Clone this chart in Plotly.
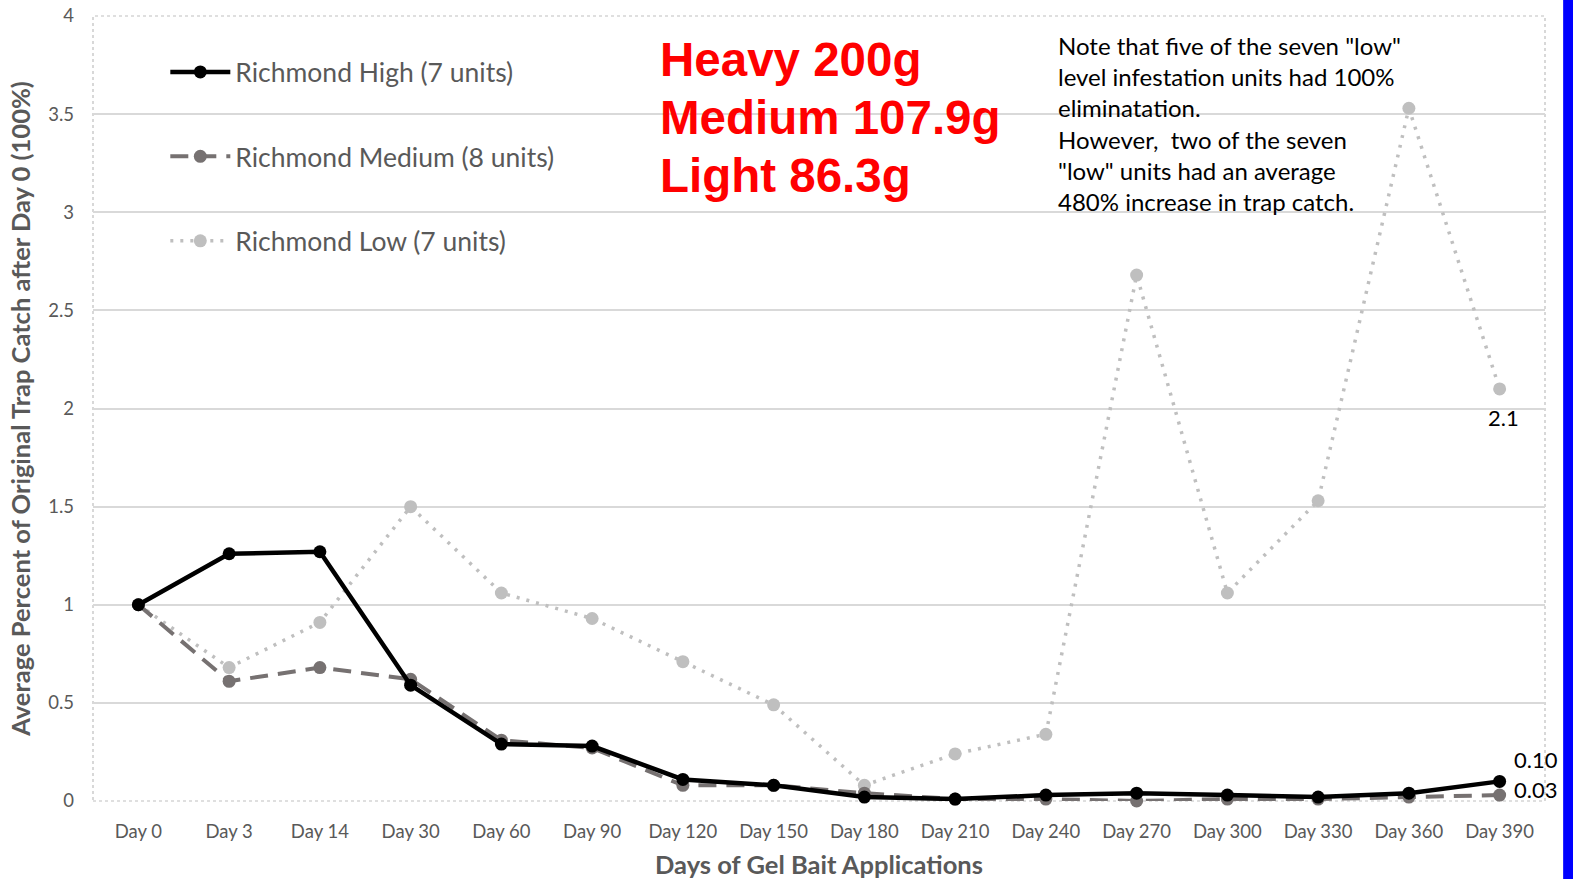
import plotly.graph_objects as go

days = ["Day 0", "Day 3", "Day 14", "Day 30", "Day 60", "Day 90", "Day 120", "Day 150",
        "Day 180", "Day 210", "Day 240", "Day 270", "Day 300", "Day 330", "Day 360", "Day 390"]
high = [1.0, 1.26, 1.27, 0.59, 0.29, 0.28, 0.11, 0.08, 0.02, 0.01, 0.03, 0.04, 0.03, 0.02, 0.04, 0.10]
medium = [1.0, 0.61, 0.68, 0.62, 0.31, 0.27, 0.08, 0.08, 0.04, 0.01, 0.01, 0.0, 0.01, 0.01, 0.02, 0.03]
low = [1.0, 0.68, 0.91, 1.50, 1.06, 0.93, 0.71, 0.49, 0.08, 0.24, 0.34, 2.68, 1.06, 1.53, 3.53, 2.10]

names = ["Richmond High (7 units)", "Richmond Medium (8 units)", "Richmond Low (7 units)"]
end_labels = ["0.10", "0.03", "2.1"]
red_lines = ["Heavy 200g", "Medium 107.9g", "Light 86.3g"]
note_lines = ["Note that five of the seven \"low\"", "level infestation units had 100%",
              "eliminatation.", "However,  two of the seven", "\"low\" units had an average",
              "480% increase in trap catch."]

FONT = "Lato"

fig = go.Figure()
fig.add_trace(go.Scatter(
    x=days, y=low, name=names[2], mode="lines+markers",
    line=dict(color="#bfbfbf", width=3.5, dash="3px,7px"),
    marker=dict(size=13, color="#bfbfbf"), cliponaxis=False,
    legendgroup="c", legendrank=3))
fig.add_trace(go.Scatter(
    x=days, y=medium, name=names[1], mode="lines+markers",
    line=dict(color="#767171", width=4, dash="18px,10px"),
    marker=dict(size=13, color="#767171"), cliponaxis=False,
    legendgroup="b", legendrank=2))
fig.add_trace(go.Scatter(
    x=days, y=high, name=names[0], mode="lines+markers",
    line=dict(color="#000000", width=4.5),
    marker=dict(size=13, color="#000000"), cliponaxis=False,
    legendgroup="a", legendrank=1))

fig.update_layout(
    width=1573, height=879,
    margin=dict(l=93, r=28, t=16, b=78, autoexpand=False),
    paper_bgcolor="white", plot_bgcolor="white",
    font=dict(family=FONT, color="#595959"),
    showlegend=True,
    legend=dict(x=0.0498, y=0.959, xanchor="left", yanchor="top",
                traceorder="grouped", tracegroupgap=47,
                font=dict(size=26.5, color="#595959", family=FONT),
                bgcolor="rgba(0,0,0,0)", itemwidth=60),
    xaxis=dict(type="category", range=[-0.5, 15.5], showgrid=False, zeroline=False,
               showline=False, ticks="", tickfont=dict(size=18.5, color="#595959"),
               automargin=False, ticklabelstandoff=17,
               title=dict(text="<b>Days of Gel Bait Applications</b>",
                          font=dict(size=25.5, color="#595959"), standoff=17)),
    yaxis=dict(range=[0, 4], dtick=0.5, showgrid=True, gridcolor="#d9d9d9", gridwidth=2,
               zeroline=False, showline=False, ticks="", automargin=False,
               tickfont=dict(size=18.5, color="#595959"), ticklabelstandoff=18,
               title=dict(text="<b>Average Percent of Original Trap Catch after Day 0 (100%)</b>",
                          font=dict(size=25.5, color="#595959"), standoff=10)),
)

# dotted plot-area border
fig.add_shape(type="rect", xref="paper", yref="paper", x0=0, x1=1, y0=0, y1=1,
              line=dict(color="#bfbfbf", width=1.2, dash="dot"), layer="below")
# blue strip at the right edge
fig.add_shape(type="rect", xref="paper", yref="paper", x0=1.0125, x1=1.03, y0=-0.2, y1=1.1,
              line=dict(width=0), fillcolor="#0000ff")

# end-point value labels
label_series = [high, medium, low]
label_shift = [(12, 22, "left", "middle"), (12, 6, "left", "middle"), (4, -29, "center", "middle")]
for lab, ser, (dx, dy, xa, ya) in zip(end_labels, label_series, label_shift):
    fig.add_annotation(x=days[-1], y=ser[-1], text=lab, showarrow=False,
                       xshift=dx, yshift=dy, xanchor=xa, yanchor=ya,
                       font=dict(family=FONT, size=22, color="#000000"))

# red treatment text, one annotation per line
for i, line in enumerate(red_lines):
    fig.add_annotation(xref="paper", yref="paper", x=0.389, y=0.944 - i * 0.0735,
                       xanchor="left", yanchor="middle", align="left", showarrow=False,
                       text="<b>" + line + "</b>",
                       font=dict(family="Liberation Sans", size=47.5, color="#ff0000"))

fig.add_annotation(xref="paper", yref="paper", x=0.6635, y=0.9836, xanchor="left", yanchor="top",
                   align="left", showarrow=False, text="<br>".join(note_lines),
                   font=dict(family=FONT, size=24, color="#000000"))

fig.write_html("out.html", config={"displayModeBar": False},
               post_script="document.body.style.margin='0';document.body.style.overflow='hidden';")
